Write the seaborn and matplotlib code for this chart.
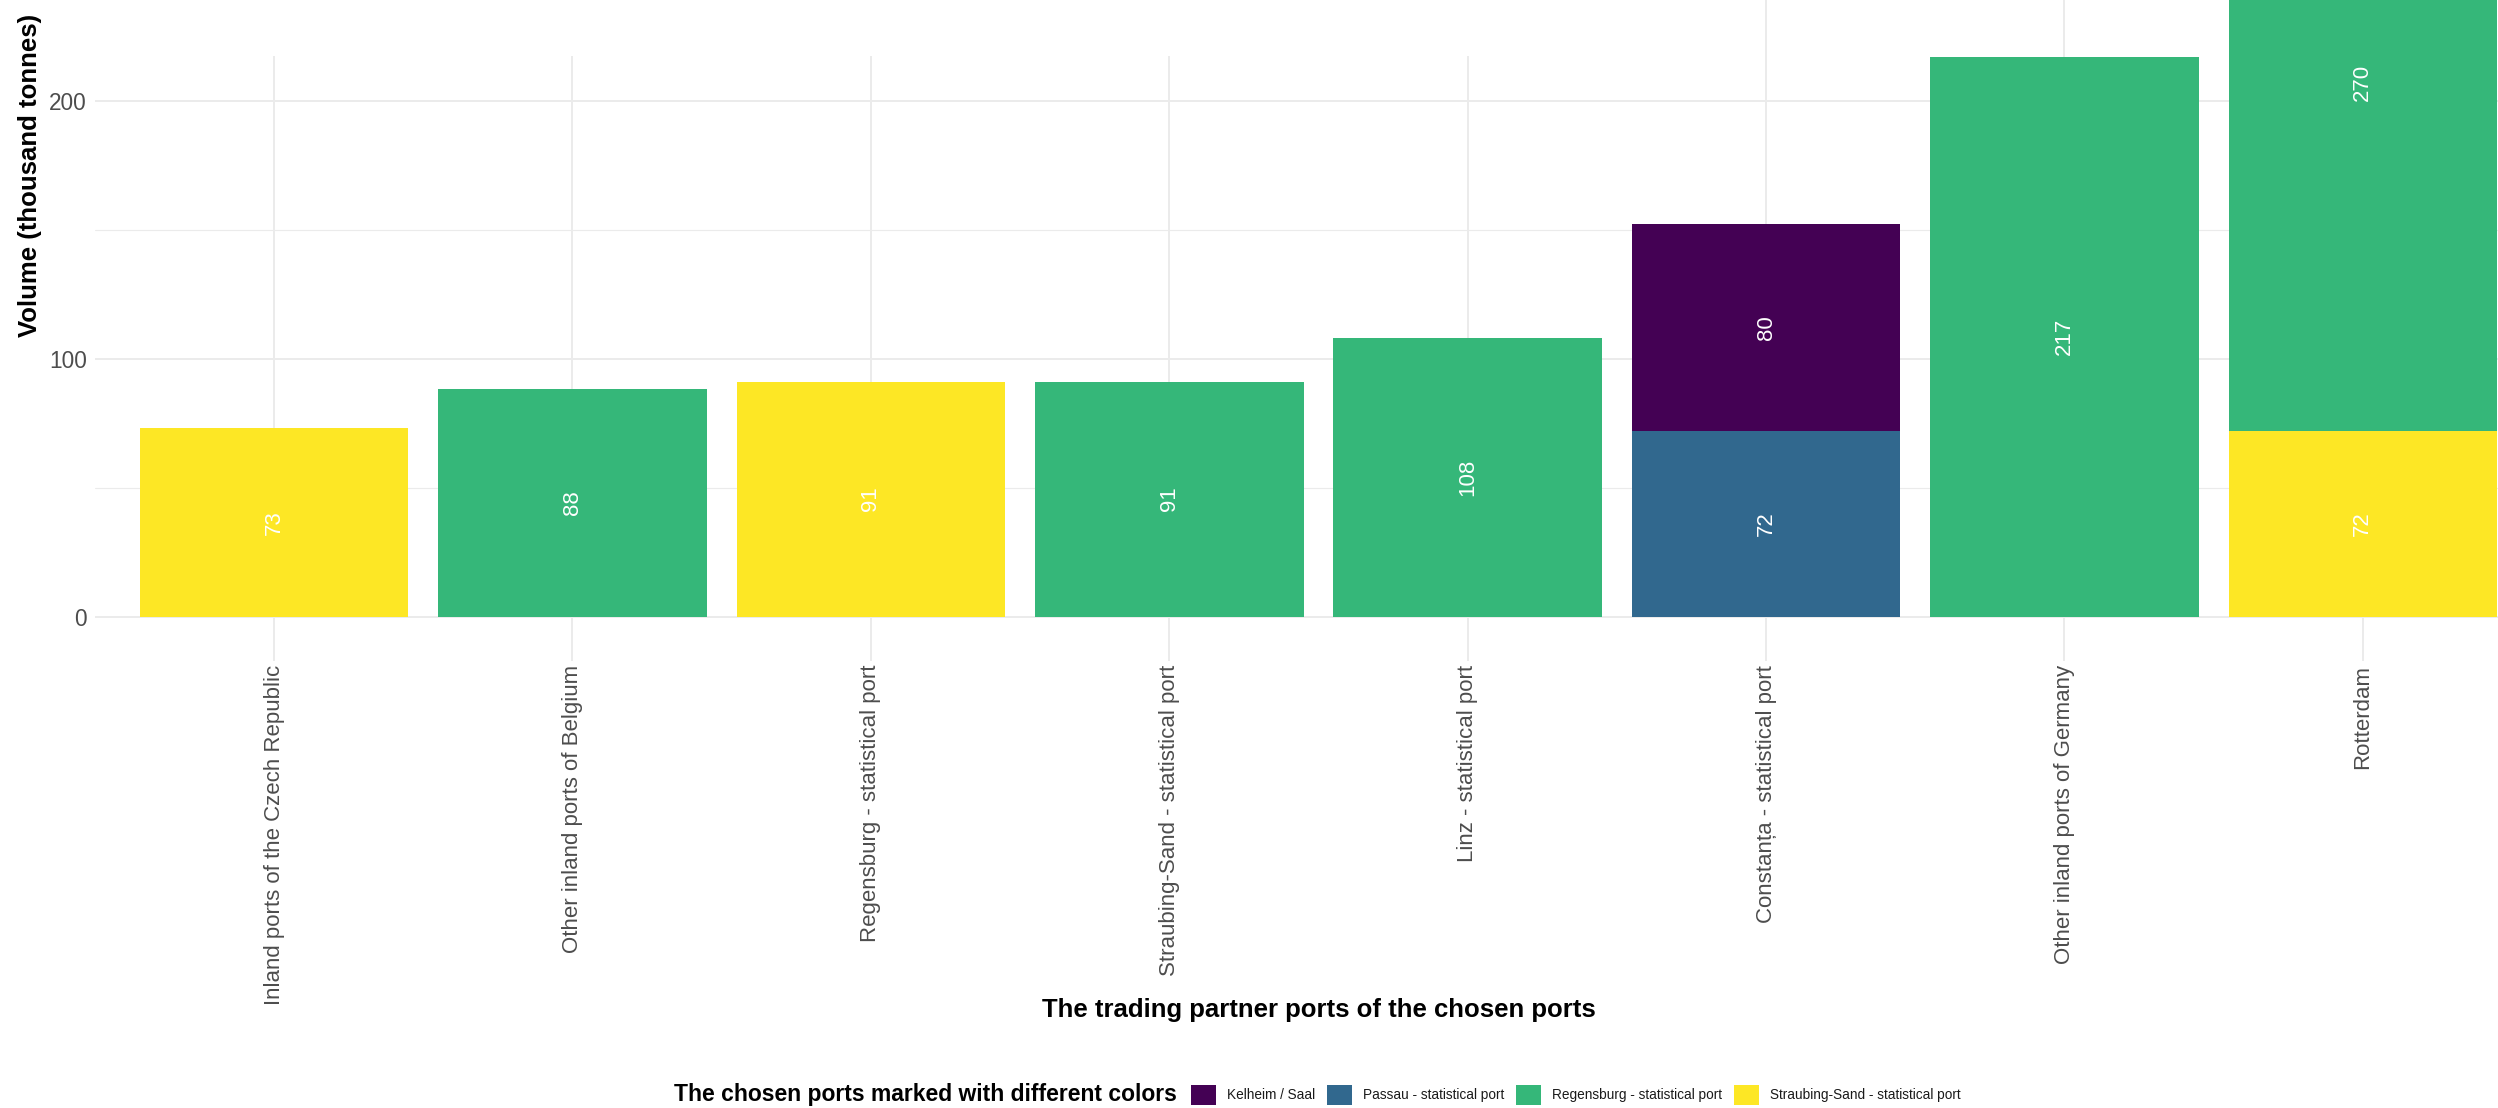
import numpy as np
import pandas as pd
import matplotlib
matplotlib.use("Agg")
import matplotlib.pyplot as plt
import seaborn as sns
from matplotlib.patches import Rectangle
from matplotlib import font_manager as fm

# ---------------- data ----------------
partners = [
    "Inland ports of the Czech Republic",
    "Other inland ports of Belgium",
    "Regensburg - statistical port",
    "Straubing-Sand - statistical port",
    "Linz - statistical port",
    "Constanța - statistical port",
    "Other inland ports of Germany",
    "Rotterdam",
]
ports = [
    "Kelheim / Saal",
    "Passau - statistical port",
    "Regensburg - statistical port",
    "Straubing-Sand - statistical port",
]
port_colors = ["#440154", "#31688E", "#35B779", "#FDE725"]

seg_partner = [
    "Inland ports of the Czech Republic",
    "Other inland ports of Belgium",
    "Regensburg - statistical port",
    "Straubing-Sand - statistical port",
    "Linz - statistical port",
    "Constanța - statistical port",
    "Constanța - statistical port",
    "Other inland ports of Germany",
    "Rotterdam",
    "Rotterdam",
]
seg_port = [
    "Straubing-Sand - statistical port",
    "Regensburg - statistical port",
    "Straubing-Sand - statistical port",
    "Regensburg - statistical port",
    "Regensburg - statistical port",
    "Passau - statistical port",
    "Kelheim / Saal",
    "Regensburg - statistical port",
    "Straubing-Sand - statistical port",
    "Regensburg - statistical port",
]
seg_value = [73, 88, 91, 91, 108, 72, 80, 217, 72, 270]

x_title = "The trading partner ports of the chosen ports"
y_title = "Volume (thousand tonnes)"
legend_title = "The chosen ports marked with different colors"

# ---------------- theme / fonts ----------------
sns.set_theme(style="white")
fams = {f.name for f in fm.fontManager.ttflist}
base = "Liberation Sans" if "Liberation Sans" in fams else "DejaVu Sans"
plt.rcParams["font.family"] = [base, "DejaVu Sans"]
narrow = "Liberation Sans Narrow" if "Liberation Sans Narrow" in fams else None

# ---------------- stacking (first port level on top, like ggplot) ----------------
df = pd.DataFrame({"partner": seg_partner, "port": seg_port, "value": seg_value})
rank = {p: i for i, p in enumerate(ports)}
df["rank"] = df["port"].map(rank)
df = df.sort_values(["partner", "rank"], ascending=[True, False])
df["top"] = df.groupby("partner")["value"].cumsum()
df["mid"] = df["top"] - df["value"] / 2

# ---------------- layout ----------------
W, H = 2498, 1108
fig = plt.figure(figsize=(W / 100, H / 100), dpi=100)
fig.patch.set_facecolor("white")

px_unit = 2.58
zero_px = 616.5
total_max = df.groupby("partner")["top"].max().max()
ymin, ymax = -0.05 * total_max, 1.05 * total_max
top_px = zero_px - ymax * px_unit
bot_px = zero_px - ymin * px_unit
left_px, unit_x = 95, 298.4
xmin, xmax = -0.6, len(partners) - 1 + 0.6
ax_w_px = (xmax - xmin) * unit_x
ax_h_px = bot_px - top_px
ax = fig.add_axes([left_px / W, 1 - bot_px / H, ax_w_px / W, ax_h_px / H])

sns.barplot(
    data=df, x="partner", y="top", hue="port",
    order=partners, hue_order=ports, palette=port_colors,
    dodge=False, width=0.9, errorbar=None, saturation=1,
    linewidth=0, ax=ax,
)
for cont in ax.containers:
    lab = cont.get_label()
    if lab in rank:
        for p in cont.patches:
            p.set_zorder(2 + rank[lab])

handles, labels = ax.get_legend_handles_labels()
if ax.get_legend() is not None:
    ax.get_legend().remove()

# value labels at the middle of each segment
for _, r in df.iterrows():
    ax.text(partners.index(r["partner"]), r["mid"], f"{r['value']:g}",
            rotation=90, ha="center", va="center", color="white",
            fontsize=16, zorder=10, clip_on=True)

ax.set_xlim(xmin, xmax)
ax.set_ylim(ymin, ymax)
ax.set_yticks([0, 100, 200, 300])
ax.set_yticks([50, 150, 250], minor=True)
ax.grid(True, which="major", axis="both", color="#EBEBEB", lw=1.4)
ax.grid(True, which="minor", axis="y", color="#EBEBEB", lw=0.8)
ax.set_axisbelow(True)
for s in ax.spines.values():
    s.set_visible(False)
ax.tick_params(axis="both", which="both", length=0)
ax.tick_params(axis="x", labelrotation=90, pad=3, labelsize=16.0, labelcolor="#4D4D4D")
ax.tick_params(axis="y", pad=6, labelsize=16.3, labelcolor="#4D4D4D")

ax.set_xlabel(x_title, fontsize=18.5, fontweight="bold", color="black")
ax.xaxis.label.set_va("center")
ax.xaxis.set_label_coords(0.5, (bot_px - 1010) / ax_h_px)
ax.set_ylabel(y_title, fontsize=18.5, fontweight="bold", color="black")
ax.yaxis.set_label_coords((42 - left_px) / ax_w_px, 0.5)

# white band over the top-left of the panel (as in the reference crop)
fig.add_artist(Rectangle((60 / W, 1 - 56 / H), (1620 - 60) / W, 56 / H,
                         transform=fig.transFigure, facecolor="white",
                         edgecolor="none", zorder=5))

# ---------------- legend (horizontal, title on the left) ----------------
fig.text(674 / W, 1 - 1094 / H, legend_title, ha="left", va="center",
         fontsize=16.5, fontweight="bold", color="black")
if narrow:
    lfs_px = 17.0
    prop = {"family": [narrow, base], "size": lfs_px * 0.72}
else:
    lfs_px = 13.6
    prop = {"family": [base], "size": lfs_px * 0.72}
leg = fig.legend(handles, labels, ncol=4, loc="center left",
                 bbox_to_anchor=(1191 / W, 1 - 1095 / H), frameon=False,
                 borderpad=0, borderaxespad=0,
                 handlelength=25 / lfs_px, handleheight=25 / lfs_px,
                 handletextpad=11 / lfs_px, columnspacing=12 / lfs_px,
                 prop=prop)
for t in leg.get_texts():
    t.set_color("#1A1A1A")

fig.savefig("out.png", dpi=100, facecolor="white")
